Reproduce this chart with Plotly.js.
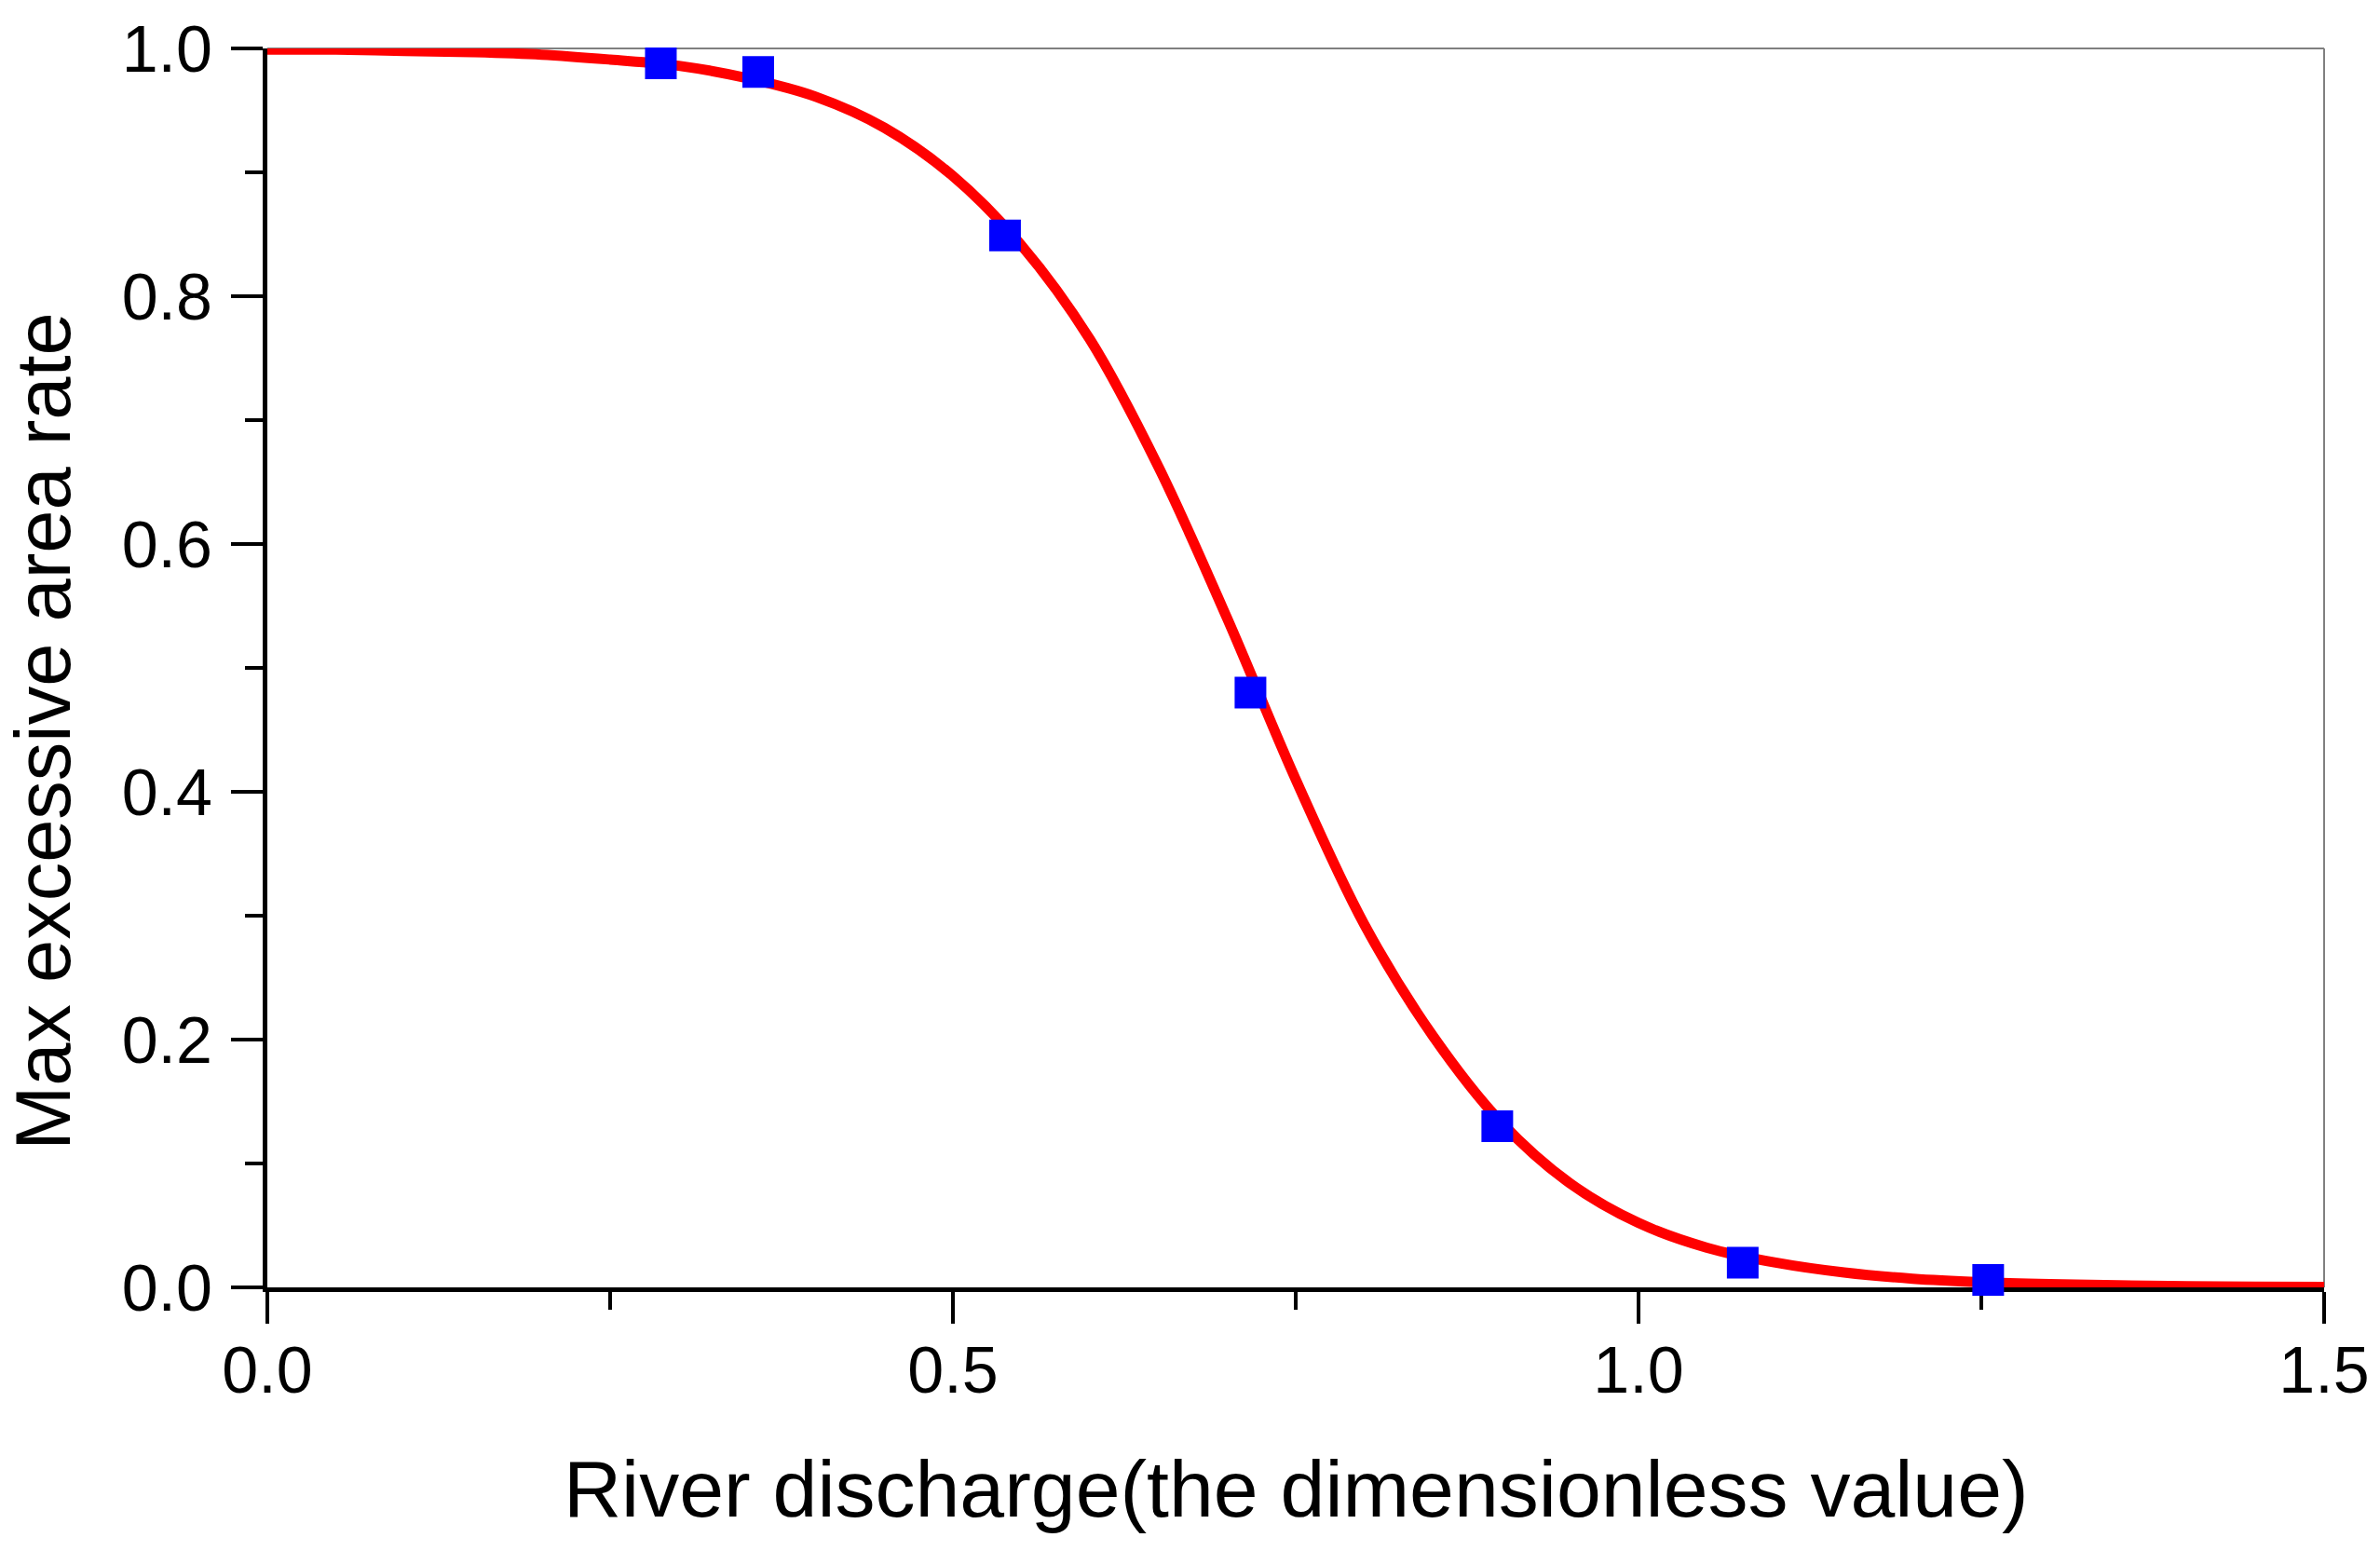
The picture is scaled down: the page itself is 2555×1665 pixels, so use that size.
<!DOCTYPE html>
<html>
<head>
<meta charset="utf-8">
<script src="https://cdn.plot.ly/plotly-3.0.1.min.js"></script>
<style>
  html, body { margin: 0; padding: 0; background: #ffffff; }
  #chart { width: 2555px; height: 1665px; }
</style>
</head>
<body>
<div id="chart"></div>
<script>
// Measured points (blue squares)
const pointX = [0.287, 0.358, 0.538, 0.717, 0.897, 1.076, 1.255];
const pointY = [0.988, 0.981, 0.849, 0.480, 0.130, 0.020, 0.006];

// Fitted curve (red line)
const curveX = [0.00, 0.05, 0.10, 0.15, 0.20, 0.25, 0.30, 0.35, 0.40, 0.45,
                0.50, 0.55, 0.60, 0.65, 0.70, 0.75, 0.80, 0.85, 0.90, 0.95,
                1.00, 1.05, 1.10, 1.15, 1.20, 1.25, 1.30, 1.35, 1.40, 1.45, 1.50];
const curveY = [0.999, 0.999, 0.998, 0.997, 0.995, 0.991, 0.986, 0.976, 0.961, 0.936,
                0.897, 0.841, 0.765, 0.662, 0.540, 0.410, 0.293, 0.203, 0.133, 0.084,
                0.052, 0.032, 0.020, 0.012, 0.007, 0.0042, 0.0026, 0.0016, 0.001, 0.0006, 0.0004];

const xTickVals = [0.0, 0.5, 1.0, 1.5];
const xTickText = ['0.0', '0.5', '1.0', '1.5'];
const yTickVals = [0.0, 0.2, 0.4, 0.6, 0.8, 1.0];
const yTickText = ['0.0', '0.2', '0.4', '0.6', '0.8', '1.0'];

const xTitle = 'River discharge(the dimensionless value)';
const yTitle = 'Max excessive area rate';

const FONT = 'Liberation Sans, Arial, sans-serif';

const traces = [
  {
    x: curveX, y: curveY, type: 'scatter', mode: 'lines',
    line: { color: '#ff0000', width: 11, shape: 'spline', smoothing: 1 },
    hoverinfo: 'skip', showlegend: false
  },
  {
    x: pointX, y: pointY, type: 'scatter', mode: 'markers',
    marker: { symbol: 'square', size: 34, color: '#0000ff', line: { width: 0 } },
    cliponaxis: false, showlegend: false
  }
];

const layout = {
  width: 2555, height: 1665,
  paper_bgcolor: '#ffffff', plot_bgcolor: '#ffffff',
  margin: { l: 287, r: 60, t: 52, b: 283, pad: 0 },
  showlegend: false,
  font: { family: FONT, color: '#000000' },
  xaxis: {
    range: [0, 1.5], autorange: false,
    showgrid: false, zeroline: false,
    showline: true, linecolor: '#000000', linewidth: 5,
    ticks: 'outside', ticklen: 34, tickwidth: 4, tickcolor: '#000000',
    tickvals: xTickVals, ticktext: xTickText,
    tickfont: { family: FONT, size: 70, color: '#000000' },
    ticklabelstandoff: -10,
    minor: { dtick: 0.25, tick0: 0, ticks: 'outside', ticklen: 19, tickwidth: 4, tickcolor: '#000000', showgrid: false },
    layer: 'below traces'
  },
  yaxis: {
    range: [0, 1.0], autorange: false,
    showgrid: false, zeroline: false,
    showline: true, linecolor: '#000000', linewidth: 5,
    ticks: 'outside', ticklen: 34, tickwidth: 4, tickcolor: '#000000',
    tickvals: yTickVals, ticktext: yTickText,
    tickfont: { family: FONT, size: 70, color: '#000000' },
    ticklabelstandoff: 6,
    minor: { dtick: 0.1, tick0: 0, ticks: 'outside', ticklen: 19, tickwidth: 4, tickcolor: '#000000', showgrid: false },
    layer: 'below traces'
  },
  shapes: [
    { type: 'line', xref: 'paper', yref: 'paper', x0: 0, x1: 1, y0: 1, y1: 1,
      line: { color: '#808080', width: 2 }, layer: 'below' },
    { type: 'line', xref: 'paper', yref: 'paper', x0: 1, x1: 1, y0: 0, y1: 1,
      line: { color: '#808080', width: 2 }, layer: 'below' }
  ],
  annotations: [
    { text: xTitle, xref: 'paper', yref: 'paper', x: 0.5, y: -0.1625,
      xanchor: 'center', yanchor: 'middle', showarrow: false,
      font: { family: FONT, size: 86, color: '#000000' } },
    { text: yTitle, xref: 'paper', yref: 'paper', x: -0.1087, y: 0.449,
      xanchor: 'center', yanchor: 'middle', showarrow: false, textangle: -90,
      font: { family: FONT, size: 83, color: '#000000' } }
  ]
};

Plotly.newPlot('chart', traces, layout, { staticPlot: true, displayModeBar: false });
</script>
</body>
</html>
